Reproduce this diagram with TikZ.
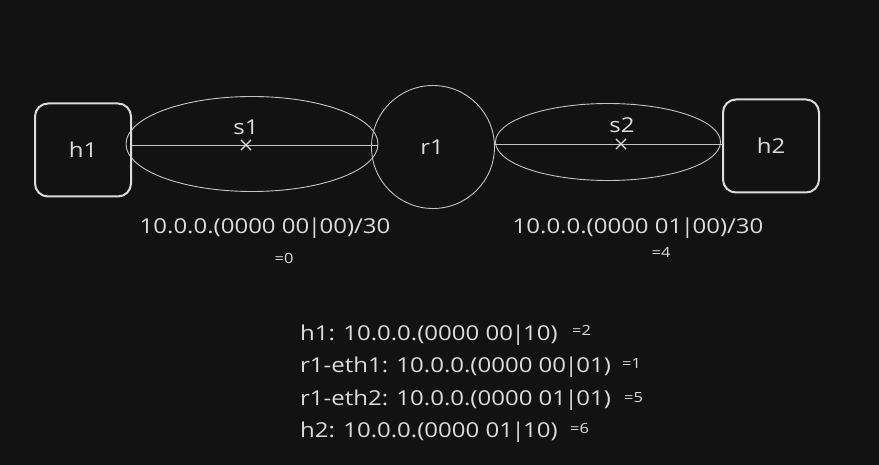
\documentclass[tikz,border=0pt]{standalone}
\usepackage{fontspec}
\setmainfont{Open Sans}[FakeStretch=1.17]
\usetikzlibrary{shapes.geometric,shapes.misc}
\definecolor{bg}{HTML}{121212}
\definecolor{ink}{HTML}{DCDCDC}
\definecolor{thin}{HTML}{C4C4C4}
\newcommand{\mysep}{\kern-1.5pt|\kern-1.5pt}
\tikzset{
  big/.style={font=\fontsize{20.5pt}{24pt}\selectfont},
  host/.style={draw=ink, line width=2pt, rounded corners=13pt, minimum width=96pt, minimum height=93pt, text=ink, big},
  sw/.style={draw=thin, line width=0.9pt, ellipse, inner sep=0pt},
  rt/.style={draw=thin, line width=0.9pt, circle, minimum size=123pt, text=ink, big},
  lbl/.style={text=ink, big, inner sep=0pt, anchor=base},
  small/.style={text=ink, font=\fontsize{14pt}{16pt}\selectfont, inner sep=0pt, anchor=base},
  link/.style={draw=thin, line width=1pt},
  xmark/.style={cross out, draw=ink, line width=1.1pt, minimum size=9pt, inner sep=0pt}
}
\begin{document}
\begin{tikzpicture}[x=1pt,y=-1pt]
\fill[bg] (0,0) rectangle (879,465);
\useasboundingbox (0,0) rectangle (879,465);
% switches
\node[sw, minimum width=252pt, minimum height=95pt] (s1) at (252,144) {};
\node[sw, minimum width=225pt, minimum height=77pt] (s2) at (608,142) {};
% hosts and router
\node[host] (h1) at (83,150) {};
\node[lbl] (h1t) at (83,158) {h1};
\node[rt] (r1) at (433,147) {};
\node[lbl] (r1t) at (432,155) {r1};
\node[host] (h2) at (771,146) {};
\node[lbl] (h2t) at (771,154) {h2};
% links
\draw[link] (h1.east |- 0,146) coordinate (a1) -- (s1.east |- 0,146) coordinate (b1);
\draw[link] (s2.west |- 0,145) coordinate (a2) -- (h2.west |- 0,145) coordinate (b2);
% switch labels and marks
\node[lbl] (s1l) at (246,135) {s1};
\node[xmark] (s1x) at (246,145) {};
\node[lbl] (s2l) at (622,133) {s2};
\node[xmark] (s2x) at (621,144) {};
% subnet labels
\node[lbl] (n1) at (265,234) {10.0.0.(0000 00\mysep00)/30};
\node[small] (n1v) at (284,264) {=0};
\node[lbl] (n2) at (638,234) {10.0.0.(0000 01\mysep00)/30};
\node[small] (n2v) at (661,258) {=4};
% address list
\node[lbl, anchor=base west] (l1) at (300,341) {h1: 10.0.0.(0000 00\mysep10)};
\node[small, anchor=base west] (v1) at (572,336) {=2};
\node[lbl, anchor=base west] (l2) at (300,373) {r1-eth1: 10.0.0.(0000 00\mysep01)};
\node[small, anchor=base west] (v2) at (622,369) {=1};
\node[lbl, anchor=base west] (l3) at (300,406) {r1-eth2: 10.0.0.(0000 01\mysep01)};
\node[small, anchor=base west] (v3) at (624,402) {=5};
\node[lbl, anchor=base west] (l4) at (300,437) {h2: 10.0.0.(0000 01\mysep10)};
\node[small, anchor=base west] (v4) at (570,433) {=6};
\end{tikzpicture}
\end{document}
